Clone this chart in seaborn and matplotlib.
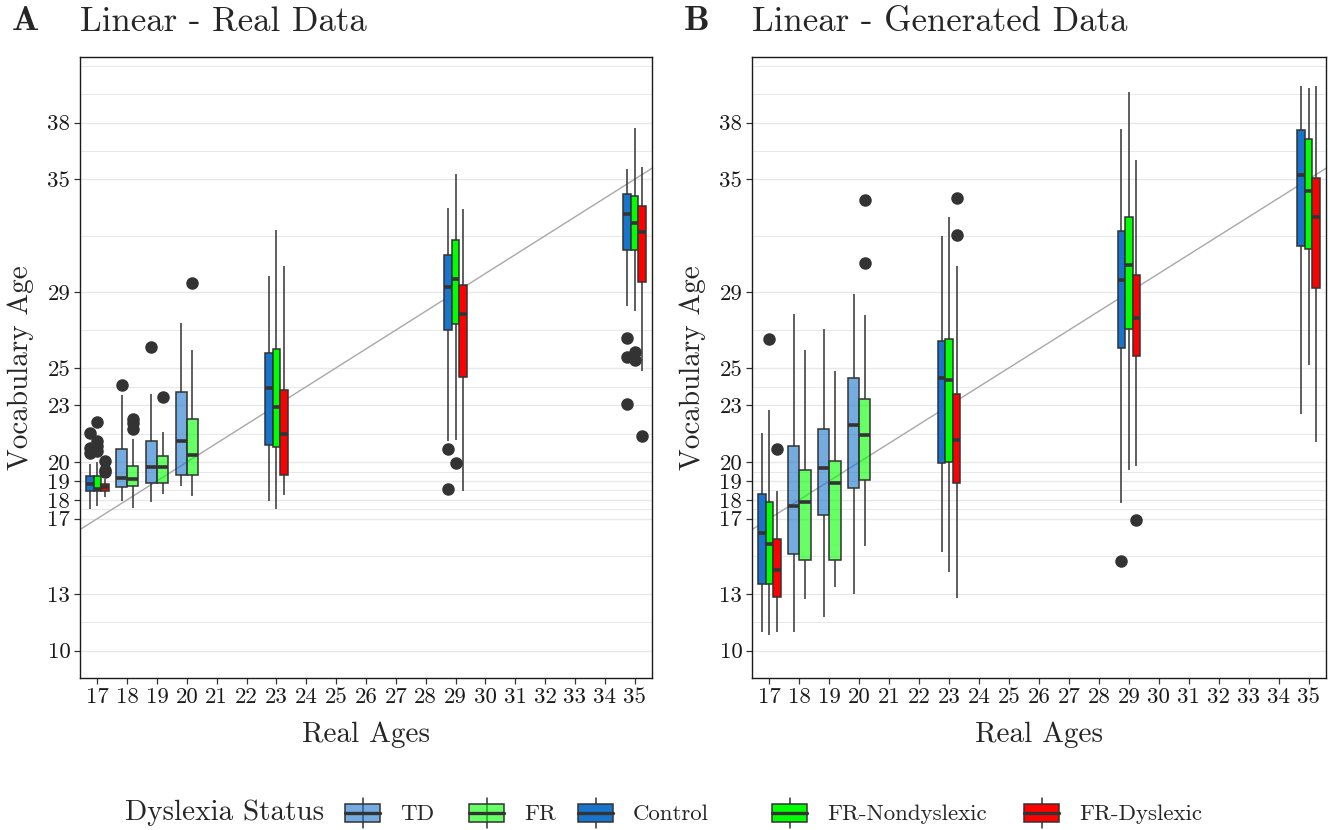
import numpy as np
import pandas as pd
import matplotlib
matplotlib.use("Agg")
import matplotlib.pyplot as plt
import seaborn as sns
from matplotlib.patches import Rectangle, Patch
from matplotlib.lines import Line2D
from matplotlib.legend_handler import HandlerBase

# ---------------- data ----------------
AGES_TWO = [18, 19, 20]            # groups TD / FR
AGES_THREE = [17, 23, 29, 35]      # groups Control / FR-Nondyslexic / FR-Dyslexic
GROUPS_TWO = ["TD", "FR"]
GROUPS_THREE = ["Control", "FR-Nondyslexic", "FR-Dyslexic"]
X_TICKS = list(range(17, 36))
Y_TICKS = [10, 13, 17, 18, 19, 20, 23, 25, 29, 35, 38]
Y_MINOR = [11.5, 15, 17.5, 18.5, 19.5, 21.5, 24, 27, 32, 36.5, 39.5, 41]

# five-number summaries: lower whisker, Q1, median, Q3, upper whisker
real_TD = [[17.95, 18.66, 19.16, 20.70, 23.58],
           [17.90, 18.87, 19.76, 21.12, 23.61],
           [18.71, 19.33, 21.10, 23.72, 27.38]]
real_TD_out = [[24.1], [26.1], []]
real_FR = [[17.57, 18.71, 19.10, 19.79, 21.23],
           [18.29, 18.87, 19.76, 20.32, 21.58],
           [18.22, 19.30, 20.36, 22.29, 25.96]]
real_FR_out = [[21.75, 22.05, 22.3], [23.43], [29.5]]
real_Control = [[17.51, 18.48, 18.86, 19.26, 19.90],
                [17.92, 20.89, 23.93, 25.80, 29.89],
                [21.10, 27.00, 29.30, 31.00, 33.48],
                [28.30, 31.25, 33.16, 34.22, 35.56]]
real_Control_out = [[20.5, 20.75, 21.55], [], [20.7, 18.59], [26.57, 25.55, 23.1]]
real_FRN = [[17.65, 18.45, 18.57, 19.24, 20.00],
            [17.51, 20.80, 22.92, 26.02, 32.29],
            [21.15, 27.34, 29.71, 31.78, 35.30],
            [28.01, 31.25, 32.68, 34.10, 37.72]]
real_FRN_out = [[20.6, 20.85, 21.1, 22.1], [], [19.95], [25.85, 25.4]]
real_FRD = [[18.15, 18.48, 18.66, 18.86, 19.10],
            [18.27, 19.33, 21.51, 23.84, 30.42],
            [18.45, 24.51, 27.83, 29.41, 33.42],
            [24.83, 29.55, 32.20, 33.58, 35.65]]
real_FRD_out = [[19.47, 19.6, 20.05], [], [], [21.4]]

gen_TD = [[10.99, 15.13, 17.66, 20.86, 27.83],
          [11.79, 17.18, 19.69, 21.76, 27.06],
          [12.99, 18.64, 21.98, 24.46, 28.93]]
gen_TD_out = [[], [], []]
gen_FR = [[12.74, 14.79, 17.90, 19.56, 25.96],
          [13.38, 14.83, 18.87, 20.08, 24.81],
          [15.53, 19.05, 21.45, 23.33, 27.80]]
gen_FR_out = [[], [], [30.54, 33.92]]
gen_Control = [[10.99, 13.54, 16.22, 18.31, 21.55],
               [15.21, 19.95, 24.46, 26.42, 31.97],
               [17.81, 26.03, 29.64, 32.25, 37.68],
               [22.57, 31.48, 35.20, 37.63, 39.96]]
gen_Control_out = [[], [], [14.74], []]
gen_FRN = [[10.85, 13.54, 15.67, 17.89, 22.76],
           [14.15, 20.01, 24.37, 26.55, 32.98],
           [19.60, 27.06, 30.47, 33.02, 39.63],
           [25.17, 31.28, 34.36, 37.14, 39.84]]
gen_FRN_out = [[26.55], [], [], []]
gen_FRD = [[10.99, 12.86, 14.26, 15.92, 18.48],
           [12.79, 18.89, 21.19, 23.61, 30.38],
           [19.77, 25.62, 27.64, 29.90, 36.02],
           [21.05, 29.21, 33.00, 35.07, 39.92]]
gen_FRD_out = [[20.7], [32.02, 33.99], [16.93], []]

PANELS = [
    ("A", "Linear - Real Data",
     {"TD": (real_TD, real_TD_out), "FR": (real_FR, real_FR_out)},
     {"Control": (real_Control, real_Control_out),
      "FR-Nondyslexic": (real_FRN, real_FRN_out),
      "FR-Dyslexic": (real_FRD, real_FRD_out)}),
    ("B", "Linear - Generated Data",
     {"TD": (gen_TD, gen_TD_out), "FR": (gen_FR, gen_FR_out)},
     {"Control": (gen_Control, gen_Control_out),
      "FR-Nondyslexic": (gen_FRN, gen_FRN_out),
      "FR-Dyslexic": (gen_FRD, gen_FRD_out)}),
]

# ---------------- styling ----------------
EDGE = "#333333"
REF_COLOR = "#A8A8A8"
GRID_COLOR = "#E8E8E8"
COLORS = {"TD": "#1874CD", "FR": "#00FF00", "Control": "#1874CD",
          "FR-Nondyslexic": "#00FF00", "FR-Dyslexic": "#FF0000"}
LIGHT_ALPHA = 0.6
GROUP_WIDTH = 0.75

sns.set_style("white")
plt.rcParams["font.family"] = ["cmr10", "DejaVu Serif"]
plt.rcParams["mathtext.fontset"] = "cm"
plt.rcParams["axes.unicode_minus"] = False
plt.rcParams["axes.formatter.use_mathtext"] = True


def expand(summary, outliers):
    """Build a sample whose boxplot statistics equal the read summary."""
    lo, q1, med, q3, hi = summary
    low_out = sorted(o for o in outliers if o < q1)
    high_out = sorted(o for o in outliers if o > q3)
    L, H = len(low_out), len(high_out)
    return (low_out + [lo] + [q1] * (30 - L) + [med] * 20
            + [q3] * (29 - H) + [hi] + high_out)


def build(ages, groups, table):
    rows = []
    for g in groups:
        summaries, outs = table[g]
        for age, s, o in zip(ages, summaries, outs):
            for v in expand(s, o):
                rows.append({"age": float(age), "group": g, "value": v})
    return pd.DataFrame(rows)


W, H = 1330, 830
fig = plt.figure(figsize=(W / 100, H / 100), dpi=100)
panel_lefts = [80, 752]
panel_rights = [652, 1326]
TOP, BOTTOM = 57, 678

box_kw = dict(saturation=1, linecolor=EDGE, linewidth=1.1, showcaps=False,
              fliersize=8, legend=False,
              flierprops=dict(marker="o", markerfacecolor=EDGE,
                              markeredgecolor=EDGE),
              medianprops=dict(linewidth=2.6, color=EDGE),
              whiskerprops=dict(linewidth=1.1, color=EDGE))

for i, (letter, title, two, three) in enumerate(PANELS):
    l, r = panel_lefts[i], panel_rights[i]
    ax = fig.add_axes([l / W, 1 - BOTTOM / H, (r - l) / W, (BOTTOM - TOP) / H])
    ax.set_axisbelow(True)
    ax.axline((0, 0), (1, 1), color=REF_COLOR, lw=1.0, zorder=1.5)

    df2 = build(AGES_TWO, GROUPS_TWO, two)
    df3 = build(AGES_THREE, GROUPS_THREE, three)

    n0 = len(ax.patches)
    sns.boxplot(data=df2, x="age", y="value", hue="group", hue_order=GROUPS_TWO,
                palette=[COLORS[g] for g in GROUPS_TWO], native_scale=True,
                width=GROUP_WIDTH / np.min(np.diff(sorted(AGES_TWO))),
                ax=ax, **box_kw)
    for p in ax.patches[n0:]:
        fc = p.get_facecolor()
        p.set_facecolor((fc[0], fc[1], fc[2], LIGHT_ALPHA))
    sns.boxplot(data=df3, x="age", y="value", hue="group", hue_order=GROUPS_THREE,
                palette=[COLORS[g] for g in GROUPS_THREE], native_scale=True,
                width=GROUP_WIDTH / np.min(np.diff(sorted(AGES_THREE))),
                ax=ax, **box_kw)

    ax.set_xlim(16.42, 35.58)
    ax.set_ylim(8.55, 41.48)
    ax.set_xticks(X_TICKS)
    ax.set_xticklabels([str(t) for t in X_TICKS])
    ax.set_yticks(Y_TICKS)
    ax.set_yticklabels([str(t) for t in Y_TICKS])
    ax.set_yticks(Y_MINOR, minor=True)
    ax.set_xlabel("")
    ax.set_ylabel("")
    ax.grid(False)
    ax.yaxis.grid(True, which="major", color=GRID_COLOR, lw=1.0)
    ax.yaxis.grid(True, which="minor", color=GRID_COLOR, lw=0.7)
    ax.tick_params(axis="both", which="major", length=4, width=0.9, color=EDGE,
                   labelsize=16.5, labelcolor="#1a1a1a", pad=3, direction="out",
                   bottom=True, left=True)
    ax.tick_params(axis="y", which="minor", length=0)
    for sp in ax.spines.values():
        sp.set_visible(True)
        sp.set_color("#1a1a1a")
        sp.set_linewidth(1.0)

    # panel letter and title
    fig.text((l - 68) / W, 1 - 22 / H, letter, fontfamily="cmb10", fontsize=26,
             ha="left", va="center")
    fig.text(l / W, 1 - 22 / H, title, fontsize=25, ha="left", va="center")
    # axis labels
    fig.text((l - 59) / W, 1 - (TOP + BOTTOM) / 2 / H, "Vocabulary Age",
             fontsize=21, rotation=90, ha="center", va="center")
    fig.text((l + r) / 2 / W, 1 - 735 / H, "Real Ages", fontsize=21,
             ha="center", va="center")


# ---------------- legend ----------------
class BoxKeyHandler(HandlerBase):
    def create_artists(self, legend, orig_handle, xdescent, ydescent, width,
                       height, fontsize, trans):
        fc = orig_handle.get_facecolor()
        x0, y0 = -xdescent, -ydescent
        cx = x0 + width / 2
        bh = height * 0.62
        by = y0 + (height - bh) / 2
        wh = Line2D([cx, cx], [y0, y0 + height], color=EDGE, lw=1.1,
                    transform=trans)
        rect = Rectangle((x0, by), width, bh, facecolor=fc, edgecolor=EDGE,
                         lw=1.1, transform=trans)
        med = Line2D([x0, x0 + width], [by + bh / 2] * 2, color=EDGE, lw=2.4,
                     transform=trans)
        return [wh, rect, med]


LEG_Y = 1 - 813 / H
LEG_FS = 16.5
fs_px = LEG_FS * 100 / 72
fig.text(125 / W, LEG_Y, "Dyslexia Status", fontsize=21, ha="left", va="center")
legend_items = ["TD", "FR", "Control", "FR-Nondyslexic", "FR-Dyslexic"]
key_x = [345, 469, 578, 772, 1024]
for name, kx in zip(legend_items, key_x):
    alpha = LIGHT_ALPHA if name in GROUPS_TWO else 1.0
    c = matplotlib.colors.to_rgb(COLORS[name])
    h = Patch(facecolor=(c[0], c[1], c[2], alpha))
    fig.legend(handles=[h], labels=[name], loc="center left",
               bbox_to_anchor=(kx / W, LEG_Y), frameon=False, borderpad=0,
               borderaxespad=0, handlelength=35 / fs_px,
               handleheight=37 / fs_px, handletextpad=20 / fs_px,
               fontsize=LEG_FS, handler_map={Patch: BoxKeyHandler()})

fig.savefig("out.png", dpi=100)
